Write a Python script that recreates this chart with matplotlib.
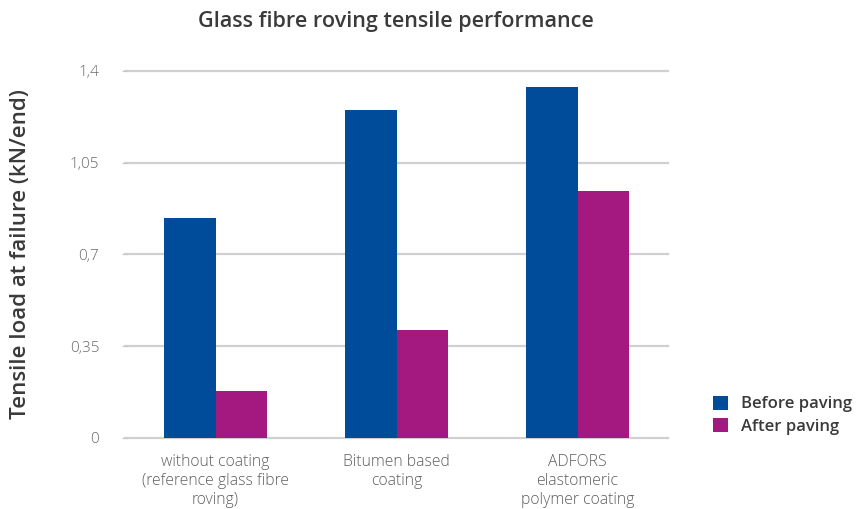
import matplotlib.pyplot as plt
import numpy as np

categories = ["without coating\n(reference glass fibre\nroving)",
              "Bitumen based\ncoating",
              "ADFORS\nelastomeric\npolymer coating"]
before_paving = [0.84, 1.25, 1.34]
after_paving = [0.18, 0.41, 0.94]
y_ticks = [0, 0.35, 0.7, 1.05, 1.4]
y_tick_labels = ["0", "0,35", "0,7", "1,05", "1,4"]

blue = "#004C9B"
magenta = "#A3197F"

plt.rcParams['font.family'] = ['Open Sans', 'DejaVu Sans']

fig = plt.figure(figsize=(8.56, 5.09), dpi=100)
ax = fig.add_axes([125 / 856, 1 - 437.7 / 509, (668 - 125) / 856, (437.7 - 71) / 509])

x = np.arange(len(categories))
w = 0.283
ax.bar(x - w / 2, before_paving, w, color=blue, label="Before paving", zorder=3)
ax.bar(x + w / 2, after_paving, w, color=magenta, label="After paving", zorder=3)

ax.set_xlim(-0.5, 2.5)
ax.set_ylim(0, 1.4)
ax.set_yticks(y_ticks)
ax.set_yticklabels(y_tick_labels, color="#6a6a6a", fontsize=11, fontweight="light")
ax.yaxis.grid(True, color="#d0d0d0", linewidth=1.6, zorder=0)
for gl in ax.get_ygridlines():
    gl.set_clip_on(False)
ax.tick_params(axis="y", length=5, direction="inout", color="#c8c8c8", pad=16)
ax.set_xticks(x)
ax.set_xticklabels(categories, color="#5e5e5e", fontsize=11.3, linespacing=1.25,
                   fontweight="light")
ax.tick_params(axis="x", length=0, pad=12)
for s in ax.spines.values():
    s.set_visible(False)

ax.set_ylabel("Tensile load at failure (kN/end)", fontsize=16, color="#3a3a3a",
              fontweight="semibold")
ax.yaxis.set_label_coords(21 / 856, 0.5, transform=fig.transFigure)
ax.yaxis.label.set_va("center")
fig.text(396 / 856, 1 - 22 / 509, "Glass fibre roving tensile performance",
         ha="center", va="center", fontsize=15.5, color="#3a3a3a", fontweight="semibold")

leg = ax.legend(loc="upper left", bbox_to_anchor=(706 / 856, 1 - 389 / 509),
                bbox_transform=fig.transFigure, frameon=False, fontsize=12,
                handlelength=0.9, handleheight=0.9, handletextpad=0.8,
                labelspacing=0.35, borderaxespad=0)
for t in leg.get_texts():
    t.set_color("#3a3a3a")
    t.set_fontweight("semibold")

fig.savefig("out.png", dpi=100)
